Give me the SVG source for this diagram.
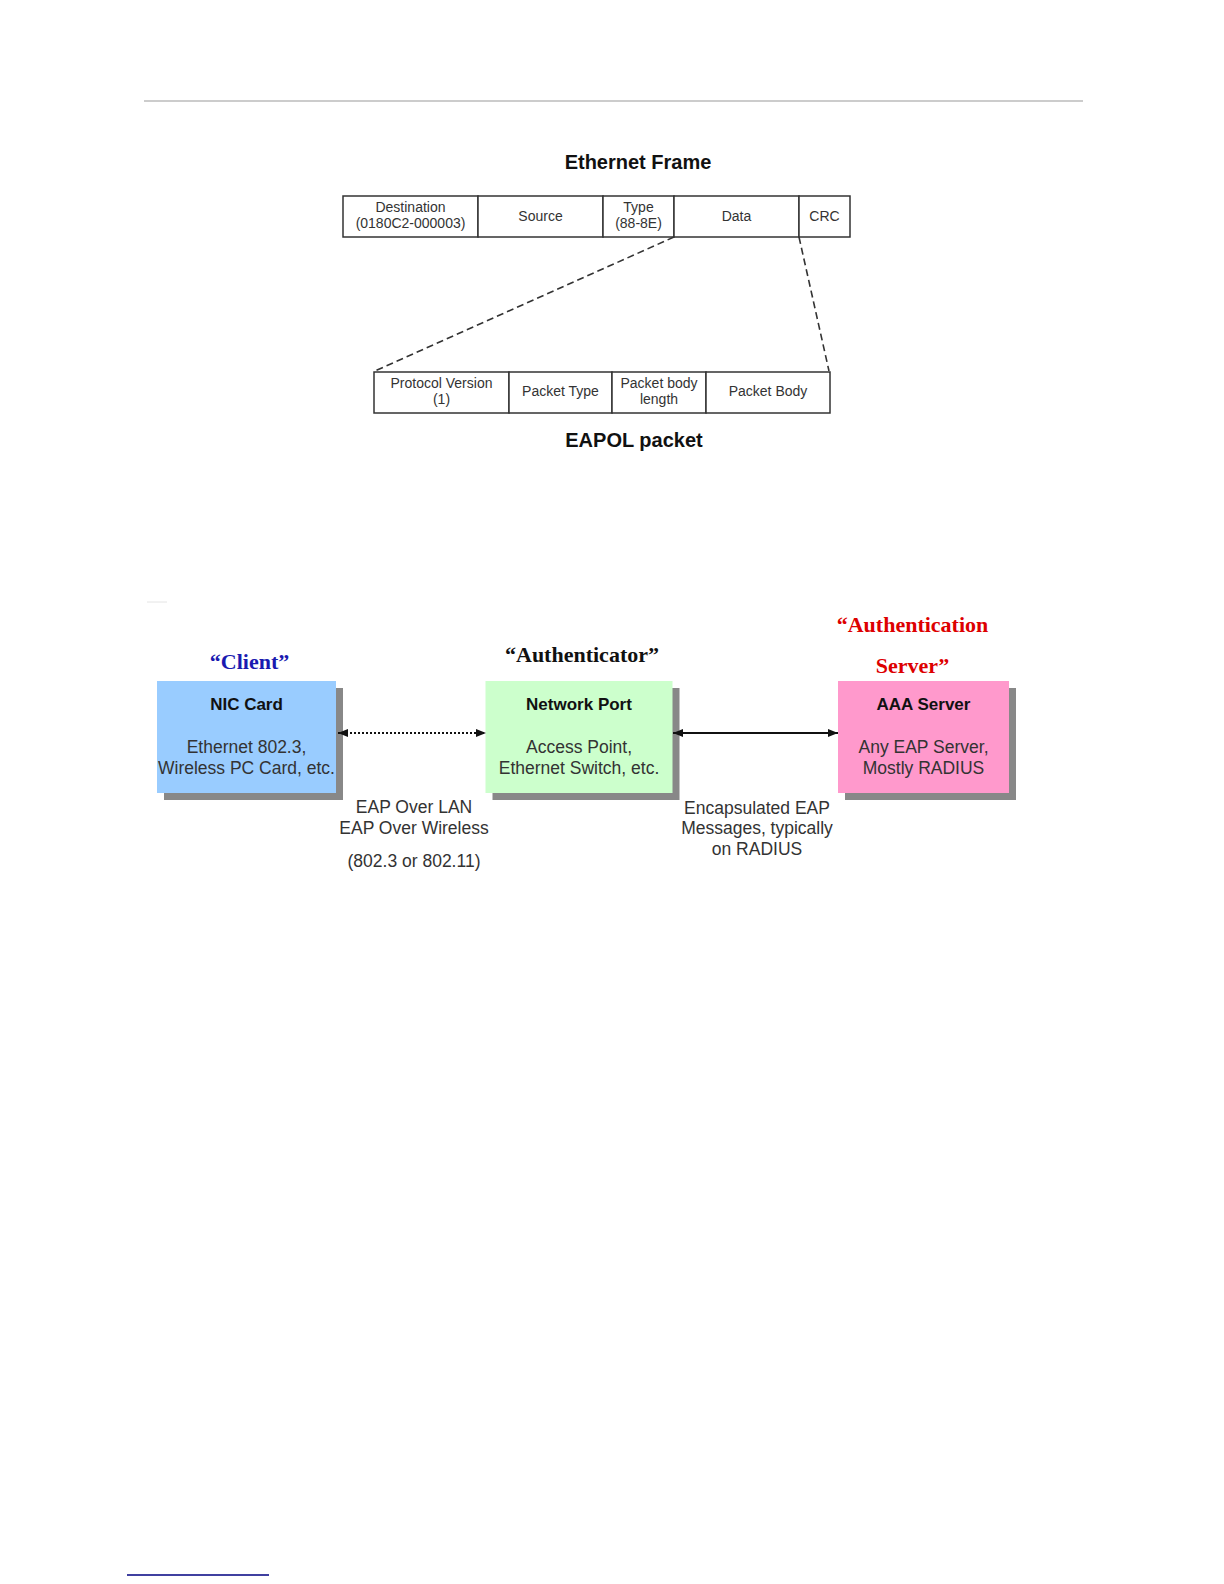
<svg xmlns="http://www.w3.org/2000/svg" width="1224" height="1584" viewBox="0 0 1224 1584">
<style>
.cell{fill:#fff;stroke:#333;stroke-width:1.5}
.ct{font-family:"Liberation Sans",Arial,sans-serif;font-size:14px;fill:#333;text-anchor:middle}
.ttl{font-family:"Liberation Sans",Arial,sans-serif;font-size:20px;font-weight:bold;fill:#111;text-anchor:middle}
.dash{stroke:#333;stroke-width:1.6;stroke-dasharray:7,4;fill:none}
.shadow{fill:#888}
.bh{font-family:"Liberation Sans",Arial,sans-serif;font-size:17px;font-weight:bold;fill:#111;text-anchor:middle}
.bt{font-family:"Liberation Sans",Arial,sans-serif;font-size:17.5px;fill:#333;text-anchor:middle}
.lbl{font-family:"Liberation Sans",Arial,sans-serif;font-size:17.5px;fill:#333;text-anchor:middle}
.role{font-family:"Liberation Serif","Times New Roman",serif;font-size:22px;font-weight:bold;text-anchor:middle}
</style>
<defs>
<marker id="ah" viewBox="0 0 10 8" refX="10" refY="4" markerWidth="10" markerHeight="8" markerUnits="userSpaceOnUse" orient="auto-start-reverse">
<path d="M0,0 L10,4 L0,8 z" fill="#111"/>
</marker>
</defs>
<line x1="144" y1="101" x2="1083" y2="101" stroke="#bbb" stroke-width="1.5"/>
<line x1="127" y1="1575" x2="269" y2="1575" stroke="#000080" stroke-width="1.5"/>
<line x1="147" y1="602" x2="167" y2="602" stroke="#e4e4e4" stroke-width="1"/>

<g id="ethernet-frame">
<text class="ttl" x="638" y="169">Ethernet Frame</text>
<rect class="cell" x="343" y="196" width="135" height="41"/>
<rect class="cell" x="478" y="196" width="125" height="41"/>
<rect class="cell" x="603" y="196" width="71" height="41"/>
<rect class="cell" x="674" y="196" width="125" height="41"/>
<rect class="cell" x="799" y="196" width="51" height="41"/>
<text class="ct" x="410.5" y="212">Destination</text>
<text class="ct" x="410.5" y="228">(0180C2-000003)</text>
<text class="ct" x="540.5" y="221">Source</text>
<text class="ct" x="638.5" y="212">Type</text>
<text class="ct" x="638.5" y="228">(88-8E)</text>
<text class="ct" x="736.5" y="221">Data</text>
<text class="ct" x="824.5" y="221">CRC</text>
</g>

<g id="eapol-packet">
<rect class="cell" x="374" y="372" width="135" height="41"/>
<rect class="cell" x="509" y="372" width="103" height="41"/>
<rect class="cell" x="612" y="372" width="94" height="41"/>
<rect class="cell" x="706" y="372" width="124" height="41"/>
<text class="ct" x="441.5" y="388">Protocol Version</text>
<text class="ct" x="441.5" y="404">(1)</text>
<text class="ct" x="560.5" y="396">Packet Type</text>
<text class="ct" x="659" y="388">Packet body</text>
<text class="ct" x="659" y="404">length</text>
<text class="ct" x="768" y="396">Packet Body</text>
<text class="ttl" x="634" y="447">EAPOL packet</text>
</g>

<g id="client">
<text class="role" x="249.5" y="669" fill="#1a1ab0">“Client”</text>
<rect class="shadow" x="164" y="688" width="179" height="112"/>
<rect x="157" y="681" width="179" height="112" fill="#99CCFF"/>
<text class="bh" x="246.5" y="710">NIC Card</text>
<text class="bt" x="246.5" y="753">Ethernet 802.3,</text>
<text class="bt" x="246.5" y="774">Wireless PC Card, etc.</text>
</g>

<g id="authenticator">
<text class="role" x="582" y="662" fill="#111">“Authenticator”</text>
<rect class="shadow" x="492.5" y="688" width="187" height="112"/>
<rect x="485.5" y="681" width="187" height="112" fill="#CCFFCC"/>
<text class="bh" x="579" y="710">Network Port</text>
<text class="bt" x="579" y="753">Access Point,</text>
<text class="bt" x="579" y="774">Ethernet Switch, etc.</text>
</g>

<g id="auth-server">
<text class="role" x="912.5" y="632" fill="#dd0000">“Authentication</text>
<text class="role" x="912.5" y="673" fill="#dd0000">Server”</text>
<rect class="shadow" x="845" y="688" width="171" height="112"/>
<rect x="838" y="681" width="171" height="112" fill="#FF99CC"/>
<text class="bh" x="923.5" y="710">AAA Server</text>
<text class="bt" x="923.5" y="753">Any EAP Server,</text>
<text class="bt" x="923.5" y="774">Mostly RADIUS</text>
</g>

<g id="connectors">
<line class="dash" x1="674" y1="237" x2="375" y2="371"/>
<line class="dash" x1="799" y1="237" x2="829" y2="371"/>
<line x1="338" y1="733" x2="486" y2="733" stroke="#111" stroke-width="2.2" stroke-dasharray="2,2" marker-start="url(#ah)" marker-end="url(#ah)"/>
<line x1="673" y1="733" x2="838" y2="733" stroke="#111" stroke-width="2" marker-start="url(#ah)" marker-end="url(#ah)"/>
<text class="lbl" x="414" y="813">EAP Over LAN</text>
<text class="lbl" x="414" y="834">EAP Over Wireless</text>
<text class="lbl" x="414" y="867">(802.3 or 802.11)</text>
<text class="lbl" x="757" y="814">Encapsulated EAP</text>
<text class="lbl" x="757" y="834">Messages, typically</text>
<text class="lbl" x="757" y="855">on RADIUS</text>
</g>
</svg>
